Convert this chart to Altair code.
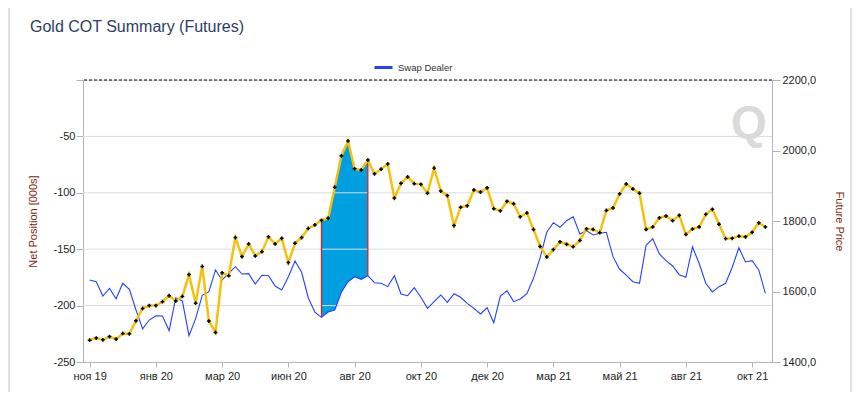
import altair as alt
import pandas as pd

# ---------------- data ----------------
weeks = list(range(103))

price = [1462, 1468, 1463, 1472, 1465, 1481, 1480, 1517, 1552, 1560,
         1560, 1571, 1588, 1573, 1586, 1648, 1567, 1671, 1516, 1484,
         1653, 1645, 1753, 1699, 1735, 1701, 1713, 1755, 1735, 1751,
         1682, 1737, 1753, 1779, 1789, 1802, 1808, 1896, 1985, 2027,
         1948, 1945, 1973, 1934, 1947, 1962, 1865, 1907, 1925, 1906,
         1904, 1879, 1950, 1885, 1872, 1787, 1839, 1843, 1888, 1882,
         1894, 1835, 1829, 1856, 1849, 1812, 1823, 1776, 1728, 1698,
         1719, 1741, 1734, 1727, 1745, 1778, 1776, 1767, 1830, 1837,
         1877, 1905, 1891, 1879, 1776, 1783, 1809, 1814, 1801, 1816,
         1762, 1777, 1783, 1819, 1833, 1791, 1750, 1751, 1757, 1755,
         1768, 1795, 1783]

swap = [-177.3, -178.8, -191.5, -184.7, -193.9, -180.2, -185.5, -203.9, -220.7, -212.8,
        -209.0, -209.2, -222.2, -193.0, -195.9, -226.7, -211.6, -190.9, -187.7, -168.4,
        -177.3, -171.4, -165.5, -172.0, -171.7, -180.9, -173.1, -173.5, -182.6, -186.2,
        -174.4, -160.5, -170.5, -193.0, -205.9, -210.4, -205.7, -203.9, -188.2, -178.8,
        -174.4, -176.7, -173.5, -179.7, -180.2, -183.2, -173.5, -189.7, -191.2, -184.1,
        -192.6, -202.4, -196.5, -190.6, -197.1, -189.4, -192.6, -198.0, -202.4, -207.4,
        -201.9, -215.2, -191.5, -186.8, -196.5, -194.1, -189.4, -175.8, -157.5, -135.0,
        -126.5, -130.6, -124.7, -121.2, -136.5, -133.6, -137.4, -135.9, -135.0, -156.6,
        -167.8, -172.9, -178.8, -180.2, -146.5, -140.7, -154.2, -160.2, -164.9, -172.6,
        -174.9, -148.0, -162.5, -180.2, -187.9, -183.2, -180.2, -166.0, -148.7, -161.3,
        -160.2, -168.4, -189.1]

series_name = "Swap Dealer"
x_tick_values = [0, 10, 20, 30, 40, 50, 60, 70, 80, 90, 100]
x_tick_labels = ["ноя 19", "янв 20", "мар 20", "июн 20", "авг 20", "окт 20",
                 "дек 20", "мар 21", "май 21", "авг 21", "окт 21"]
left_ticks = [-250, -200, -150, -100, -50, 0]
grid_values = [-200, -150, -100, -50]
right_ticks = [1400, 1600, 1800, 2000, 2200]
left_domain = [-250, 0]
right_domain = [1400, 2200]
fill_start, fill_end = 35, 42

# ---------------- derived tables ----------------
df = pd.DataFrame({"week": weeks, "price": price, "swap": swap, "series": series_name})
k = (left_domain[1] - left_domain[0]) / (right_domain[1] - right_domain[0])
df["price_left"] = left_domain[0] + (df["price"] - right_domain[0]) * k
fill_df = df[(df.week >= fill_start) & (df.week <= fill_end)]
edge_df = fill_df[fill_df.week.isin([fill_start, fill_end])]
grid_df = pd.DataFrame({"level": grid_values})
top_df = pd.DataFrame({"level": [left_domain[1]]})

FONT = "Liberation Sans"
AXIS_GREY = "#b4b4b4"
LABEL_COL = "#1e1e1e"
TITLE_COL = "#7a2a14"

x_label_expr = "[" + ",".join("'%s'" % s for s in x_tick_labels) + "][round(datum.value/10)]"
x_scale = alt.Scale(domain=[-1, 103], nice=False, zero=False)
x_axis = alt.Axis(values=x_tick_values, labelExpr=x_label_expr, title=None, grid=False,
                  domainColor=AXIS_GREY, tickColor=AXIS_GREY, tickSize=5,
                  labelColor=LABEL_COL, labelFontSize=11, labelPadding=3, labelFont=FONT)
X = alt.X("week:Q", scale=x_scale, axis=x_axis)

left_scale = alt.Scale(domain=left_domain, nice=False, zero=False)
left_axis = alt.Axis(orient="left", values=left_ticks,
                     labelExpr="datum.value == 0 ? '' : '' + datum.value",
                     title="Net Position [000s]", titleColor=TITLE_COL, titleFontSize=11,
                     titleFontWeight="normal", titleFont=FONT, titlePadding=14,
                     grid=False, domainColor=AXIS_GREY, tickColor=AXIS_GREY, tickSize=7,
                     labelColor=LABEL_COL, labelFontSize=11, labelPadding=1, labelFont=FONT)


def LY(field):
    return alt.Y(field, type="quantitative", scale=left_scale, axis=left_axis)


right_scale = alt.Scale(domain=right_domain, nice=False, zero=False)
right_axis = alt.Axis(orient="right", values=right_ticks,
                      labelExpr="replace(format(datum.value, '.1f'), '.', ',')",
                      title="Future Price", titleColor=TITLE_COL, titleFontSize=11,
                      titleFontWeight="normal", titleFont=FONT, titlePadding=18, titleAngle=90,
                      grid=False, domainColor=AXIS_GREY, tickColor=AXIS_GREY, tickSize=8,
                      labelColor=LABEL_COL, labelFontSize=11, labelPadding=2, labelFont=FONT)


def RY(field):
    return alt.Y(field, type="quantitative", scale=right_scale, axis=right_axis)


# ---------------- left-axis layers ----------------
fill = alt.Chart(fill_df).mark_area(color="#009fe0", opacity=1).encode(
    x=X, y=LY("swap"), y2=alt.Y2("price_left"))

grid = alt.Chart(grid_df).mark_rule(color="#dcdcdc", strokeWidth=1).encode(y=LY("level"))

top_line = alt.Chart(top_df).mark_rule(color="black", strokeDash=[3, 2], strokeWidth=1).encode(
    y=LY("level"))

swap_line = alt.Chart(df).mark_line(strokeWidth=1.1).encode(
    x=X, y=LY("swap"),
    color=alt.Color("series:N", scale=alt.Scale(domain=[series_name], range=["#2342ff"]),
                    legend=alt.Legend(orient="none", legendX=290, legendY=-23, title=None,
                                      symbolType="stroke", symbolStrokeWidth=3,
                                      symbolSize=324, labelFontSize=9.5, labelFont=FONT,
                                      labelColor="#333333", labelOffset=4, padding=0)))

edges = alt.Chart(edge_df).mark_rule(color="#e8141c", strokeWidth=1.2).encode(
    x=X, y=LY("swap"), y2=alt.Y2("price_left"))

title_df = pd.DataFrame({"t": ["Gold COT Summary (Futures)"]})
title_txt = alt.Chart(title_df).mark_text(align="left", baseline="alphabetic", fontSize=16,
                                          font=FONT, color="#2c3d66").encode(
    text="t:N", x=alt.value(-53), y=alt.value(-48))

logo_df = pd.DataFrame({"t": ["Q"]})
logo = alt.Chart(logo_df).mark_text(align="center", baseline="middle", fontSize=46,
                                    font=FONT, fontWeight="bold", color="#dadada").encode(
    text="t:N", x=alt.value(666), y=alt.value(44))

border_df = pd.DataFrame({"b": [1]})
border_l = alt.Chart(border_df).mark_rule(color="#d6d6d6", strokeWidth=1.5).encode(
    x=alt.value(-74), y=alt.value(-80), y2=alt.value(316))
border_r = alt.Chart(border_df).mark_rule(color="#d6d6d6", strokeWidth=1.5).encode(
    x=alt.value(768), y=alt.value(-80), y2=alt.value(316))

left = alt.layer(fill, grid, top_line, swap_line, edges, title_txt, logo, border_l, border_r)

# ---------------- right-axis layers ----------------
price_line = alt.Chart(df).mark_line(color="#f4c20d", strokeWidth=2.5).encode(x=X, y=RY("price"))
price_pts = alt.Chart(df).mark_point(shape="cross", filled=True, size=14, color="black",
                                     opacity=1).encode(x=X, y=RY("price"))
right = alt.layer(price_line, price_pts)

chart = alt.layer(left, right).resolve_scale(y="independent").properties(
    width=689, height=282,
    autosize=alt.AutoSizeParams(type="none"),
    padding={"left": 75, "top": 72, "right": 80, "bottom": 30},
).configure_view(stroke=None).configure(font=FONT)

chart.save("out.html", embed_options={"renderer": "svg", "actions": False})
